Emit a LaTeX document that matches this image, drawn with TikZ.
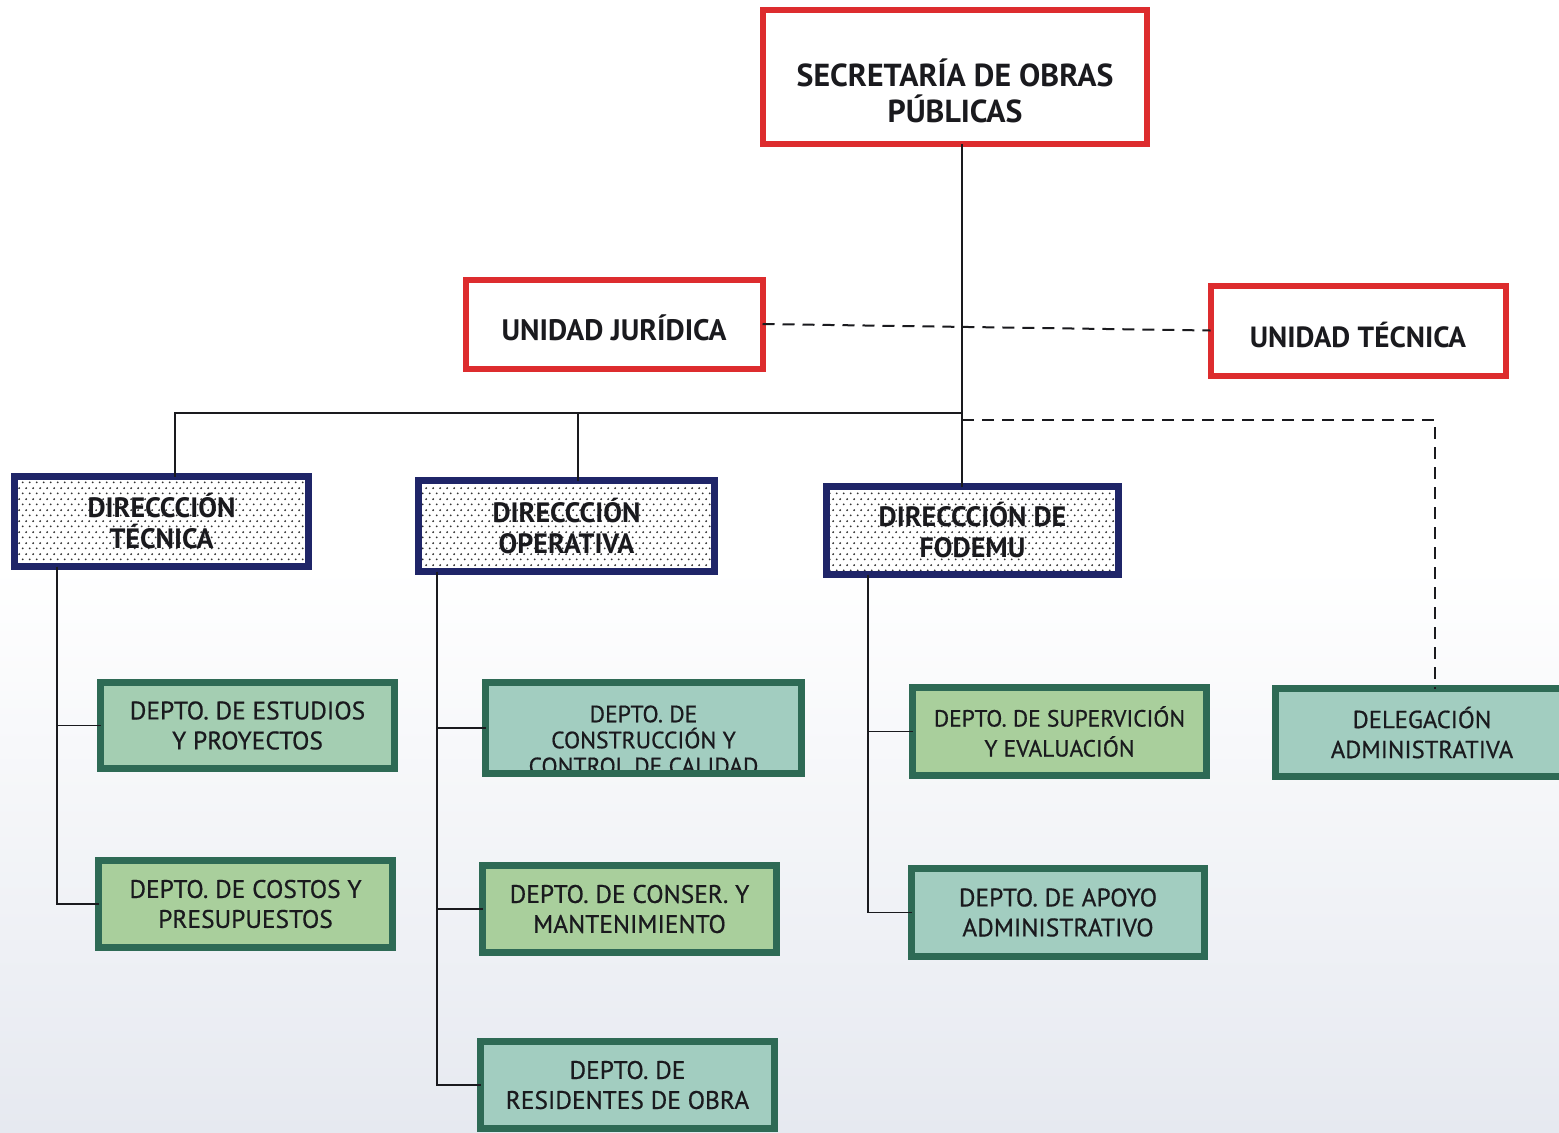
\documentclass[tikz,border=0pt]{standalone}
\usepackage{fontspec}
\setmainfont{PT Sans}
\newfontfamily\deptfont[FakeBold=0.6]{PT Sans}
\usetikzlibrary{patterns.meta,calc}
\definecolor{redb}{HTML}{DD2C2E}
\definecolor{navyb}{HTML}{1F2568}
\definecolor{greenb}{HTML}{2E6A55}
\definecolor{tealf}{HTML}{A2CDC0}
\definecolor{greenf}{HTML}{A9CF9C}
\definecolor{midf}{HTML}{A4CEB2}
\definecolor{paper}{HTML}{E6E9F0}
\definecolor{inkc}{HTML}{1A1A1E}
\tikzdeclarepattern{
  name=stipple, type=uncolored,
  bounding box={(0,0) and (3.7pt,5.6pt)},
  tile size={(3.7pt,5.6pt)},
  code={
    \fill (0.92pt,1.4pt) circle (0.55pt);
    \fill (2.77pt,4.2pt) circle (0.55pt);
  }
}
\tikzset{
  redbox/.style={draw=redb, line width=3pt, fill=white, outer sep=0pt},
  redtext/.style={align=center, text=inkc, inner sep=0pt, font=\fontsize{15.9}{18}\selectfont\bfseries},
  navybox/.style={draw=navyb, line width=3.5pt, outer sep=0pt, align=center,
    preaction={fill=white}, pattern=stipple, pattern color=black!80,
    text=inkc, font=\fontsize{14}{15.5}\selectfont\bfseries},
  deptbox/.style={draw=greenb, line width=3.5pt, outer sep=0pt, align=center,
    text=inkc, font=\deptfont\fontsize{12.7}{15}\selectfont},
  link/.style={line width=0.9pt, draw=inkc},
  dlink/.style={line width=1pt, draw=inkc, dash pattern=on 6pt off 4pt},
}
\begin{document}
\begin{tikzpicture}[x=0.5pt,y=-0.5pt]
\useasboundingbox (0,0) rectangle (1559,1132);
\shade[top color=white, bottom color=paper, middle color=white] (0,0) rectangle (1559,1132);
% top level
\node[redbox, minimum width=192pt, minimum height=67pt] (sec) at (955,77) {};
\node[redtext] (sect) at ($(sec.center)+(0,14)$) {SECRETARÍA DE OBRAS\\PÚBLICAS};
\node[redbox, minimum width=148.5pt, minimum height=44.5pt] (uj) at (614,324) {};
\node[redtext, font=\fontsize{14.8}{16}\selectfont\bfseries] (ujt) at ($(uj.center)+(0,4)$) {UNIDAD JURÍDICA};
\node[redbox, minimum width=147.5pt, minimum height=45pt] (ut) at (1358,330.5) {};
\node[redtext, font=\fontsize{14.6}{16}\selectfont\bfseries] (utt) at ($(ut.center)+(0,4)$) {UNIDAD TÉCNICA};
% direcciones
\node[navybox, minimum width=147pt, minimum height=45pt] (dt) at (161.5,521.5) {DIRECCCIÓN\\TÉCNICA};
\node[navybox, minimum width=148pt, minimum height=45.5pt] (do) at (566.5,526) {DIRECCCIÓN\\OPERATIVA};
\node[navybox, minimum width=146pt, minimum height=44pt] (df) at (972.5,530.5) {DIRECCCIÓN DE\\FODEMU};
% departamentos
\node[deptbox, fill=midf, minimum width=147pt, minimum height=43pt] (est) at (247.5,725.5) {DEPTO. DE ESTUDIOS\\Y PROYECTOS};
\node[deptbox, fill=greenf, minimum width=147pt, minimum height=43.5pt] (cos) at (245.5,904) {DEPTO. DE COSTOS Y\\PRESUPUESTOS};
\node[deptbox, fill=tealf, minimum width=158pt, minimum height=45.5pt] (con) at (643.5,728) {};
\begin{scope}
  \clip (con.south west) rectangle (con.north east);
  \node[align=center, text=inkc, font=\deptfont\fontsize{11.8}{13}\selectfont] (contxt) at (643.5,740) {DEPTO. DE\\CONSTRUCCIÓN Y\\CONTROL DE CALIDAD};
\end{scope}
\draw[draw=greenb, line width=3.5pt] (con.south west) rectangle (con.north east);
\node[deptbox, fill=greenf, minimum width=147pt, minimum height=43.5pt] (cns) at (629.5,909) {DEPTO. DE CONSER. Y\\MANTENIMIENTO};
\node[deptbox, fill=tealf, minimum width=147pt, minimum height=43.5pt] (res) at (627.5,1085) {DEPTO. DE\\RESIDENTES DE OBRA};
\node[deptbox, fill=greenf, minimum width=147pt, minimum height=44pt, font=\deptfont\fontsize{11.7}{15}\selectfont] (sup) at (1059.5,731.5) {DEPTO. DE SUPERVICIÓN\\Y EVALUACIÓN};
\node[deptbox, fill=tealf, minimum width=146.5pt, minimum height=44pt] (apo) at (1058,912.5) {DEPTO. DE APOYO\\ADMINISTRATIVO};
\node[deptbox, fill=tealf, minimum width=146.5pt, minimum height=44pt, font=\deptfont\fontsize{12.3}{15}\selectfont] (del) at (1422,732.5) {DELEGACIÓN\\ADMINISTRATIVA};
% helper coordinates
\coordinate (trunk) at (962,413);
\coordinate (jt) at (175,413);
\coordinate (jo) at (578,413);
\coordinate (dj) at (962,420);
\coordinate (dk) at (1435,420);
\coordinate (xt) at (57,0);
\coordinate (xo) at (437,0);
\coordinate (xf) at (868,0);
% connectors
\draw[link] (sec.south -| trunk) -- (df.north -| trunk);
\draw[link] (trunk) -- (jt) -- (dt.north -| jt);
\draw[link] (jo) -- (do.north -| jo);
\draw[dlink] (uj.east) -- (ut.west);
\draw[dlink] (dj) -- (dk) -- (del.north -| dk);
\draw[link] (dt.south -| xt) |- (est.west);
\draw[link] (dt.south -| xt) |- (cos.west);
\draw[link] (do.south -| xo) |- (con.west);
\draw[link] (do.south -| xo) |- (cns.west);
\draw[link] (do.south -| xo) |- (res.west);
\draw[link] (df.south -| xf) |- (sup.west);
\draw[link] (df.south -| xf) |- (apo.west);
\end{tikzpicture}
\end{document}
